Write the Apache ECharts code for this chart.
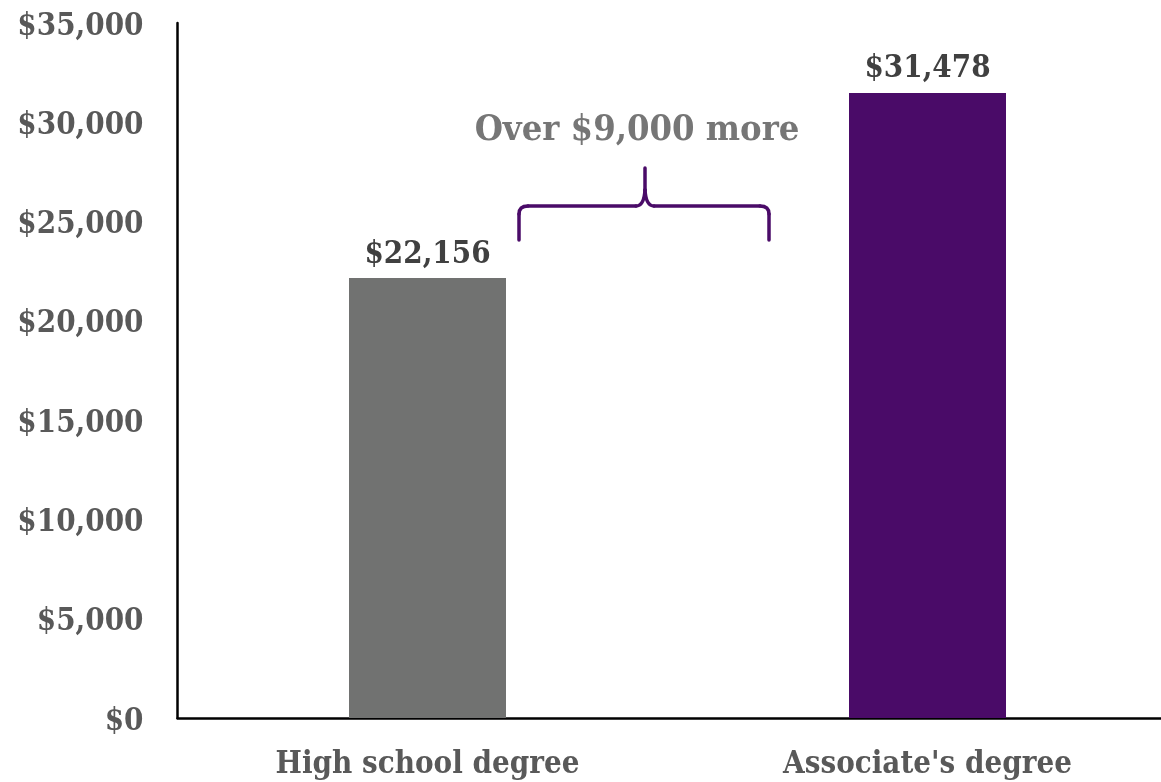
<!DOCTYPE html>
<html>
<head>
<meta charset="utf-8">
<script src="https://cdn.jsdelivr.net/npm/echarts@6/dist/echarts.min.js"></script>
<style>
html,body{margin:0;padding:0;background:#fff;}
#chart{width:1161px;height:782px;}
</style>
</head>
<body>
<div id="chart"></div>
<script>
var categories = ["High school degree", "Associate's degree"];
var earnings = [22156, 31478];
var barColors = ['#717271', '#4a0b68'];
var yTicks = [0, 5000, 10000, 15000, 20000, 25000, 30000, 35000];
var annotationText = 'Over $9,000 more';

var FONT = '"DejaVu Serif Condensed", "DejaVu Serif", serif';
function money(v) { return '$' + Number(v).toLocaleString('en-US'); }

var BRACE = { stroke: '#4a0b68', lineWidth: 3.5, fill: null, lineCap: 'round' };
function ln(x1, y1, x2, y2) { return { type: 'line', shape: { x1: x1, y1: y1, x2: x2, y2: y2 }, style: BRACE }; }
function qc(x1, y1, cx, cy, x2, y2) { return { type: 'bezierCurve', shape: { x1: x1, y1: y1, cpx1: cx, cpy1: cy, x2: x2, y2: y2 }, style: BRACE }; }

var braceParts = [
  ln(519, 240, 519, 214),
  qc(519, 214, 519, 206, 528, 206),
  ln(528, 206, 636, 206),
  qc(636, 206, 644, 206, 645, 190),
  ln(645, 190, 645, 168),
  qc(645, 190, 646, 206, 654, 206),
  ln(654, 206, 760, 206),
  qc(760, 206, 769, 206, 769, 214),
  ln(769, 214, 769, 240)
];

var chart = echarts.init(document.getElementById('chart'));
chart.setOption({
  animation: false,
  backgroundColor: '#fff',
  grid: { left: 177.5, width: 1000, top: 23, bottom: 64, containLabel: false, outerBoundsMode: 'none' },
  xAxis: {
    type: 'category',
    data: categories,
    boundaryGap: true,
    axisLine: { lineStyle: { color: '#000', width: 2.5 } },
    axisTick: { show: false },
    axisLabel: { color: '#595959', fontFamily: FONT, fontWeight: 'bold', fontSize: 31, margin: 31 }
  },
  yAxis: {
    type: 'value',
    min: yTicks[0],
    max: yTicks[yTicks.length - 1],
    interval: yTicks[1] - yTicks[0],
    splitLine: { show: false },
    axisLine: { show: true, lineStyle: { color: '#000', width: 2.5 } },
    axisTick: { show: false },
    axisLabel: {
      color: '#595959', fontFamily: FONT, fontWeight: 'bold', fontSize: 31, margin: 34,
      formatter: function (v) { return '{v|' + money(v) + '}'; },
      rich: { v: { color: '#595959', fontFamily: FONT, fontWeight: 'bold', fontSize: 31, padding: [7, 0, 0, 0] } }
    }
  },
  series: [{
    type: 'bar',
    barWidth: 157,
    data: earnings.map(function (v, i) { return { value: v, itemStyle: { color: barColors[i] } }; }),
    label: {
      show: true, position: 'top', distance: 8,
      color: '#404040', fontFamily: FONT, fontWeight: 'bold', fontSize: 31,
      formatter: function (p) { return money(p.value); }
    }
  }],
  graphic: braceParts.concat([
    {
      type: 'text',
      x: 637, y: 131,
      style: {
        text: annotationText,
        fill: '#767676',
        font: 'bold 36px ' + FONT,
        textAlign: 'center',
        textVerticalAlign: 'middle'
      }
    }
  ])
});
</script>
</body>
</html>
